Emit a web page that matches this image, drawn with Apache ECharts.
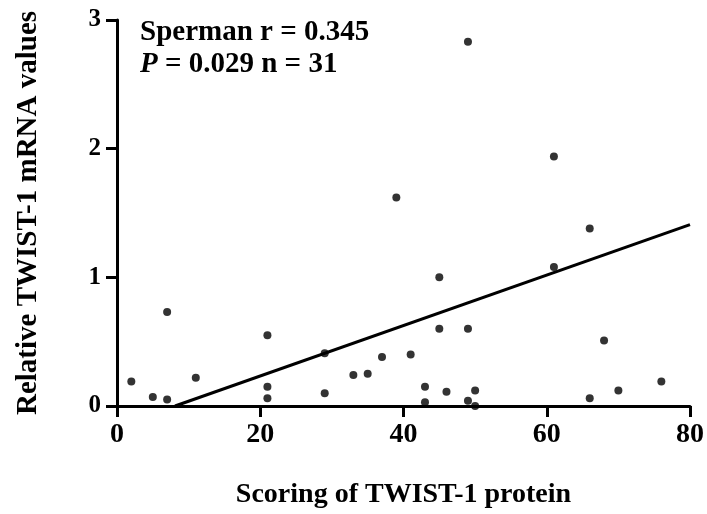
<!DOCTYPE html>
<html>
<head>
<meta charset="utf-8">
<script src="https://cdn.jsdelivr.net/npm/echarts@6/dist/echarts.min.js"></script>
<style>
  html, body { margin: 0; padding: 0; background: #fff; }
  #chart { width: 707px; height: 514px; }
</style>
</head>
<body>
<div id="chart"></div>
<script>
const serif = "'Liberation Serif', 'Times New Roman', serif";

// protein score (x) and relative mRNA value (y)
const proteinScore = [2, 5, 7, 7, 11, 21, 21, 21, 29, 29, 33, 35, 37, 39, 41,
  43, 43, 45, 45, 46, 49, 49, 49, 50, 50, 61, 61, 66, 66, 68, 70, 76];
const mrnaValue = [0.19, 0.07, 0.05, 0.73, 0.22, 0.55, 0.15, 0.06, 0.41, 0.10,
  0.24, 0.25, 0.38, 1.62, 0.40, 0.15, 0.03, 1.00, 0.60, 0.11, 2.83, 0.60, 0.04,
  0.12, 0.00, 1.94, 1.08, 1.38, 0.06, 0.51, 0.12, 0.19];

// fitted line end points
const fitLine = [[8.1, 0], [80, 1.41]];

const xTicks = [0, 20, 40, 60, 80];
const yTicks = [0, 1, 2, 3];

const points = proteinScore.map((x, i) => [x, mrnaValue[i]]);

let chart = echarts.init(document.getElementById("chart"));

const axisCommon = {
  axisLine: { lineStyle: { color: "#000", width: 3 } },
  axisTick: { length: 11, lineStyle: { color: "#000", width: 3 } },
  splitLine: { show: false },
};

chart.setOption({
  animation: false,
  grid: {
    left: 117,
    right: 16,
    top: 20,
    bottom: 107,
  },
  xAxis: {
    ...axisCommon,
    type: "value",
    min: xTicks[0],
    max: xTicks[xTicks.length - 1],
    interval: 20,
    name: "Scoring of TWIST-1 protein",
    nameLocation: "middle",
    nameGap: 75,
    nameTextStyle: {
      fontFamily: serif,
      fontWeight: "bold",
      fontSize: 28,
      color: "#000",
    },
    axisLabel: {
      margin: 15,
      fontFamily: serif,
      fontWeight: "bold",
      fontSize: 28,
      color: "#000",
    },
  },
  yAxis: {
    ...axisCommon,
    type: "value",
    min: yTicks[0],
    max: yTicks[yTicks.length - 1],
    interval: 1,
    name: "Relative TWIST-1 mRNA values",
    nameLocation: "middle",
    nameRotate: 90,
    nameGap: 74,
    nameTextStyle: {
      fontFamily: serif,
      fontWeight: "bold",
      fontSize: 29,
      color: "#000",
    },
    axisLabel: {
      margin: 16,
      fontFamily: serif,
      fontWeight: "bold",
      fontSize: 25,
      color: "#000",
    },
  },
  graphic: [
    {
      type: "text",
      left: 140,
      top: 17,
      style: {
        text: "Sperman r = 0.345\n{i|P} = 0.029 n = 31",
        fontFamily: serif,
        fontWeight: "bold",
        fontSize: 29,
        lineHeight: 32,
        fill: "#000",
        rich: {
          i: {
            fontFamily: serif,
            fontWeight: "bold",
            fontStyle: "italic",
            fontSize: 29,
            lineHeight: 32,
          },
        },
      },
    },
  ],
  series: [
    {
      type: "line",
      data: fitLine,
      symbol: "none",
      lineStyle: { color: "#000", width: 3 },
      z: 2,
    },
    {
      type: "scatter",
      data: points,
      symbolSize: 8,
      itemStyle: { color: "#000" },
      z: 3,
    },
  ],
});

window.addEventListener("resize", function () {
  chart.resize();
});
</script>
</body>
</html>
